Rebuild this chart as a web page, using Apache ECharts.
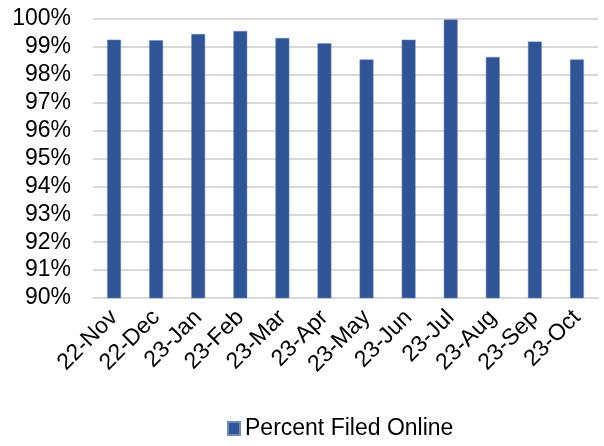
<!DOCTYPE html>
<html>
<head>
  <meta charset="utf-8">
  <title>Percent Filed Online</title>
  <script src="https://cdn.jsdelivr.net/npm/echarts@6/dist/echarts.min.js"></script>
  <style>
    html, body { margin: 0; padding: 0; background: #ffffff; }
    #chart { width: 604px; height: 446px; }
  </style>
</head>
<body>
<div id="chart"></div>
<script>
  // data
  var months = ['22-Nov', '22-Dec', '23-Jan', '23-Feb', '23-Mar', '23-Apr',
                '23-May', '23-Jun', '23-Jul', '23-Aug', '23-Sep', '23-Oct'];
  var percentOnline = [99.26, 99.24, 99.46, 99.57, 99.32, 99.13,
                       98.55, 99.26, 99.98, 98.64, 99.19, 98.55];
  var yTicks = { min: 90, max: 100, step: 1 };

  var font = 'Liberation Sans, Arial, sans-serif';
  var myChart = echarts.init(document.getElementById('chart'));

  var option = {
    animation: false,
    grid: { left: 93, right: 6, top: 19, bottom: 148 },
    legend: {
      data: ['Percent Filed Online'],
      left: 222,
      bottom: 1,
      itemWidth: 12,
      itemHeight: 13,
      itemGap: 6,
      textStyle: { fontFamily: font, fontSize: 23, color: '#000' },
      icon: 'rect'
    },
    xAxis: {
      type: 'category',
      data: months,
      axisLine: { show: true, lineStyle: { color: '#d9d9d9', width: 2 } },
      axisTick: { show: false },
      axisLabel: {
        rotate: 45,
        interval: 0,
        margin: 16,
        fontFamily: font,
        fontSize: 23,
        color: '#000'
      }
    },
    yAxis: {
      type: 'value',
      min: yTicks.min,
      max: yTicks.max,
      interval: yTicks.step,
      axisLine: { show: false },
      axisTick: { show: false },
      splitLine: { lineStyle: { color: '#d9d9d9', width: 2 } },
      axisLabel: {
        formatter: '{value}%',
        margin: 22,
        fontFamily: font,
        fontSize: 23,
        color: '#000'
      }
    },
    series: [{
      name: 'Percent Filed Online',
      type: 'bar',
      data: percentOnline,
      barWidth: '33%',
      itemStyle: { color: '#2f5597', borderColor: '#6f8cc0', borderWidth: 0.5 }
    }]
  };

  myChart.setOption(option);
</script>
</body>
</html>
